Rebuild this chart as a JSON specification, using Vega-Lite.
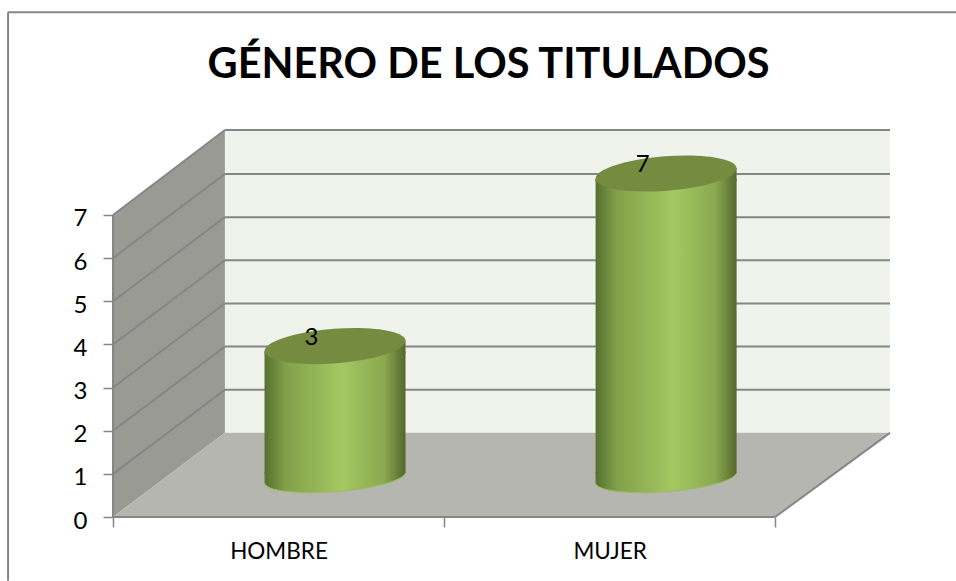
{
  "$schema": "https://vega.github.io/schema/vega-lite/v6.json",
  "width": 777,
  "height": 387,
  "autosize": "none",
  "padding": {"left": 113, "top": 130, "right": 66, "bottom": 64},
  "background": "white",
  "view": {"stroke": null},
  "title": {"text": "GÉNERO DE LOS TITULADOS", "font": "Lato", "fontWeight": "bold", "fontSize": 41.5, "color": "black", "anchor": "middle", "dx": -13, "offset": -75},
  "datasets": {
    "generos": [
      {"genero": "HOMBRE", "posicion": 0.5, "valor": 3},
      {"genero": "MUJER", "posicion": 1.5, "valor": 7}
    ],
    "pared": [
      {"x": 0, "y": 0, "y2": 7},
      {"x": 0.338, "y": 1.95, "y2": 8.97}
    ],
    "fondo": [{"x": 0.338, "x2": 2.347, "y": 1.95, "y2": 8.97}],
    "suelo": [
      {"y": 0, "x": 0, "x2": 2},
      {"y": 1.95, "x": 0.338, "x2": 2.347}
    ],
    "rejilla": [
      {"x": 0, "x2": 0.338, "y": 1, "y2": 2.95},
      {"x": 0, "x2": 0.338, "y": 2, "y2": 3.95},
      {"x": 0, "x2": 0.338, "y": 3, "y2": 4.95},
      {"x": 0, "x2": 0.338, "y": 4, "y2": 5.95},
      {"x": 0, "x2": 0.338, "y": 5, "y2": 6.95},
      {"x": 0, "x2": 0.338, "y": 6, "y2": 7.95},
      {"x": 0.338, "x2": 2.347, "y": 2.95, "y2": 2.95},
      {"x": 0.338, "x2": 2.347, "y": 3.95, "y2": 3.95},
      {"x": 0.338, "x2": 2.347, "y": 4.95, "y2": 4.95},
      {"x": 0.338, "x2": 2.347, "y": 5.95, "y2": 5.95},
      {"x": 0.338, "x2": 2.347, "y": 6.95, "y2": 6.95},
      {"x": 0.338, "x2": 2.347, "y": 7.95, "y2": 7.95}
    ],
    "bordes": [
      {"x": 0, "x2": 0, "y": 0, "y2": 7},
      {"x": 0, "x2": 0.338, "y": 7, "y2": 8.97},
      {"x": 0.338, "x2": 2.347, "y": 8.97, "y2": 8.97},
      {"x": 0, "x2": 2, "y": 0, "y2": 0},
      {"x": 2, "x2": 2.347, "y": 0, "y2": 1.95}
    ],
    "marco": [
      {"x": -0.317, "x2": -0.317, "y": 11.7, "y2": -1.48},
      {"x": -0.317, "x2": 2.55, "y": 11.7, "y2": 11.7}
    ]
  },
  "layer": [
    {
      "data": {"name": "marco"},
      "mark": {"type": "rule", "stroke": "#868686", "strokeWidth": 2, "clip": false},
      "encoding": {
        "x": {"field": "x", "type": "quantitative", "scale": {"domain": [0, 2.347], "nice": false, "zero": false, "padding": 0},
          "axis": {"title": null, "grid": false, "domain": false, "values": [0, 0.5, 1, 1.5, 2], "tickColor": "#868686", "tickWidth": 1.5, "tickSize": 10,
            "tickOpacity": {"expr": "datum.value % 1 === 0 ? 1 : 0"},
            "labelExpr": "datum.value == 0.5 ? 'HOMBRE' : datum.value == 1.5 ? 'MUJER' : ''",
            "labelFont": "Lato", "labelFontSize": 22.5, "labelColor": "black", "labelPadding": 13, "labelOverlap": false, "labelBound": false, "labelFlush": false, "labelAngle": 0}},
        "x2": {"field": "x2"},
        "y": {"field": "y", "type": "quantitative", "scale": {"domain": [0, 8.97], "nice": false, "zero": false},
          "axis": {"title": null, "grid": false, "domain": false, "values": [0, 1, 2, 3, 4, 5, 6, 7], "tickColor": "#868686", "tickWidth": 1.5, "tickSize": 10,
            "labelFont": "Lato", "labelFontSize": 24, "labelColor": "black", "labelPadding": 16, "labelOffset": 4, "labelBound": false, "labelFlush": false, "labelOverlap": false}},
        "y2": {"field": "y2"}
      }
    },
    {
      "data": {"name": "fondo"},
      "mark": {"type": "rect", "fill": "#f0f3ec"},
      "encoding": {
        "x": {"field": "x", "type": "quantitative"}, "x2": {"field": "x2"},
        "y": {"field": "y", "type": "quantitative"}, "y2": {"field": "y2"}
      }
    },
    {
      "data": {"name": "pared"},
      "mark": {"type": "area", "fill": "#989a93", "opacity": 1},
      "encoding": {
        "x": {"field": "x", "type": "quantitative"},
        "y": {"field": "y", "type": "quantitative"}, "y2": {"field": "y2"}
      }
    },
    {
      "data": {"name": "suelo"},
      "mark": {"type": "area", "orient": "horizontal", "fill": "#b4b6af", "opacity": 1},
      "encoding": {
        "y": {"field": "y", "type": "quantitative"},
        "x": {"field": "x", "type": "quantitative"}, "x2": {"field": "x2"}
      }
    },
    {
      "data": {"name": "rejilla"},
      "mark": {"type": "rule", "stroke": "#868686", "strokeWidth": 2},
      "encoding": {
        "x": {"field": "x", "type": "quantitative"}, "x2": {"field": "x2"},
        "y": {"field": "y", "type": "quantitative"}, "y2": {"field": "y2"}
      }
    },
    {
      "data": {"name": "bordes"},
      "mark": {"type": "rule", "stroke": "#868686", "strokeWidth": 2},
      "encoding": {
        "x": {"field": "x", "type": "quantitative"}, "x2": {"field": "x2"},
        "y": {"field": "y", "type": "quantitative"}, "y2": {"field": "y2"}
      }
    },
    {
      "data": {"name": "generos"},
      "mark": {"type": "point", "filled": true, "opacity": 1, "size": 19881, "xOffset": 56.5, "yOffset": -39.5,
        "shape": "M-1,-0.078 L1,-0.078 A1.003,0.2 -4.46 0 1 -1,0.078 Z",
        "fill": {"gradient": "linear", "x1": 0, "x2": 1, "y1": 0, "y2": 0, "stops": [
          {"offset": 0, "color": "#56702f"}, {"offset": 0.15, "color": "#82a04a"}, {"offset": 0.55, "color": "#a4c862"}, {"offset": 0.85, "color": "#8aa850"}, {"offset": 1, "color": "#54682c"}]}},
      "encoding": {
        "x": {"field": "posicion", "type": "quantitative"},
        "y": {"datum": 0, "type": "quantitative"}
      }
    },
    {
      "data": {"name": "generos"},
      "mark": {"type": "point", "filled": false, "opacity": 1, "size": 19881, "xOffset": 56.5, "yOffset": -39.5,
        "shape": "M1,-0.078 A1.003,0.2 -4.46 0 1 -1,0.078",
        "stroke": "#9bbb59", "strokeWidth": 1},
      "encoding": {
        "x": {"field": "posicion", "type": "quantitative"},
        "y": {"datum": 0, "type": "quantitative"}
      }
    },
    {
      "data": {"name": "generos"},
      "mark": {"type": "bar", "orient": "vertical", "width": 141, "xOffset": 56.5, "yOffset": -36, "y2Offset": -44,
        "fill": {"gradient": "linear", "x1": 0, "x2": 1, "y1": 0, "y2": 0, "stops": [
          {"offset": 0, "color": "#56702f"}, {"offset": 0.15, "color": "#82a04a"}, {"offset": 0.55, "color": "#a4c862"}, {"offset": 0.85, "color": "#8aa850"}, {"offset": 1, "color": "#54682c"}]}},
      "encoding": {
        "x": {"field": "posicion", "type": "quantitative"},
        "y": {"field": "valor", "type": "quantitative"},
        "y2": {"datum": 0}
      }
    },
    {
      "data": {"name": "generos"},
      "mark": {"type": "point", "filled": true, "opacity": 1, "size": 19881, "xOffset": 56.5, "yOffset": -41.5,
        "shape": "M-1,0.078 L1,-0.078 L1,0.11 L-1,0.11 Z",
        "fill": {"gradient": "linear", "x1": 0, "x2": 1, "y1": 0, "y2": 0, "stops": [
          {"offset": 0, "color": "#56702f"}, {"offset": 0.15, "color": "#82a04a"}, {"offset": 0.55, "color": "#a4c862"}, {"offset": 0.85, "color": "#8aa850"}, {"offset": 1, "color": "#54682c"}]}},
      "encoding": {
        "x": {"field": "posicion", "type": "quantitative"},
        "y": {"field": "valor", "type": "quantitative"}
      }
    },
    {
      "data": {"name": "generos"},
      "mark": {"type": "point", "filled": true, "opacity": 1, "size": 19881, "xOffset": 56.5, "yOffset": -41.5,
        "shape": "M-1,0.078 A1.003,0.245 -4.46 0 1 1,-0.078 A1.003,0.245 -4.46 0 1 -1,0.078 Z",
        "fill": "#758c40"},
      "encoding": {
        "x": {"field": "posicion", "type": "quantitative"},
        "y": {"field": "valor", "type": "quantitative"}
      }
    },
    {
      "data": {"name": "generos"},
      "mark": {"type": "text", "font": "Lato", "fontSize": 24, "color": "black", "xOffset": 33, "yOffset": -50, "baseline": "middle", "align": "center"},
      "encoding": {
        "x": {"field": "posicion", "type": "quantitative"},
        "y": {"field": "valor", "type": "quantitative"},
        "text": {"field": "valor", "type": "quantitative"}
      }
    }
  ]
}
